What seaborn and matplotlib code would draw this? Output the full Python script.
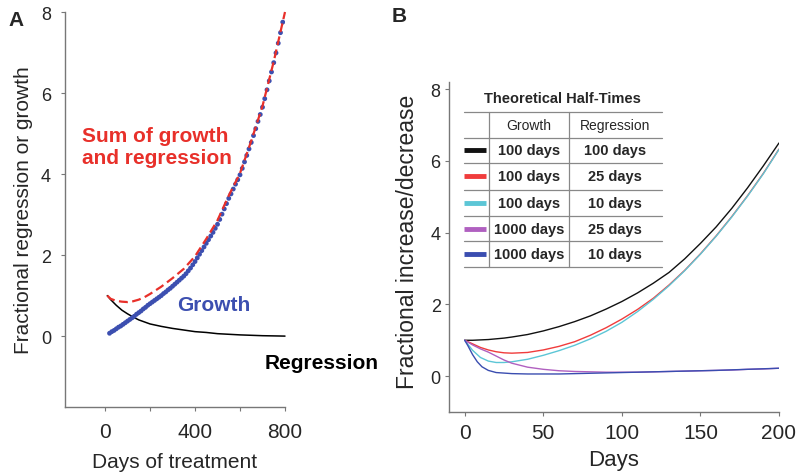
import numpy as np
import pandas as pd
import matplotlib
matplotlib.use("Agg")
import matplotlib.pyplot as plt
import seaborn as sns

# ---- panel A data ----
growth_days = list(range(20, 800, 10))
growth_vals = [0.07, 0.11, 0.14, 0.18, 0.22, 0.25, 0.29, 0.33, 0.37, 0.41,
               0.45, 0.49, 0.54, 0.58, 0.62, 0.67, 0.71, 0.76, 0.80, 0.84,
               0.88, 0.92, 0.96, 1.00, 1.05, 1.09, 1.14, 1.18, 1.23, 1.28,
               1.33, 1.38, 1.43, 1.48, 1.54, 1.61, 1.68, 1.76, 1.84, 1.93,
               2.02, 2.11, 2.20, 2.29, 2.38, 2.47, 2.56, 2.66, 2.76, 2.88,
               3.01, 3.14, 3.27, 3.40, 3.51, 3.63, 3.75, 3.86, 3.98, 4.14,
               4.30, 4.46, 4.62, 4.78, 4.95, 5.12, 5.30, 5.47, 5.65, 5.86,
               6.08, 6.30, 6.52, 6.75, 6.99, 7.23, 7.49, 7.75]

regr_days = [10, 25, 50, 75, 100, 125, 150, 200, 250, 300, 350, 400, 450, 500, 600, 700, 800]
regr_vals = [1.0, 0.9, 0.76, 0.64, 0.55, 0.47, 0.40, 0.30, 0.24, 0.19, 0.15, 0.11, 0.09, 0.06, 0.03, 0.01, 0.0]

sum_days = [10, 25, 50, 75, 100, 125, 150, 175, 200, 250, 300, 350, 400, 450, 500, 550, 600, 650, 700, 750, 800]
sum_vals = [1.0, 0.92, 0.87, 0.85, 0.84, 0.86, 0.90, 0.96, 1.04, 1.22, 1.43, 1.66, 1.97, 2.40, 2.86, 3.47, 4.02, 4.82, 5.68, 6.78, 8.0]

# ---- panel B data ----
b_days = [0, 5, 10, 15, 20, 25, 30, 40, 50, 60, 70, 80, 90, 100, 110, 120, 130, 140, 150, 160, 170, 180, 190, 200]
black_vals = [1.0, 1.0, 1.01, 1.02, 1.04, 1.06, 1.09, 1.16, 1.26, 1.38, 1.52, 1.68, 1.87, 2.08, 2.32, 2.59, 2.89, 3.27, 3.70, 4.16, 4.68, 5.25, 5.86, 6.50]
red_vals = [1.0, 0.90, 0.80, 0.73, 0.68, 0.65, 0.64, 0.66, 0.73, 0.83, 0.96, 1.14, 1.35, 1.59, 1.86, 2.17, 2.54, 2.95, 3.41, 3.91, 4.45, 5.03, 5.65, 6.33]
cyan_vals = [1.0, 0.72, 0.52, 0.42, 0.38, 0.38, 0.40, 0.47, 0.58, 0.71, 0.86, 1.04, 1.25, 1.50, 1.80, 2.14, 2.52, 2.94, 3.40, 3.90, 4.44, 5.02, 5.64, 6.32]
magenta_vals = [1.0, 0.87, 0.76, 0.67, 0.56, 0.45, 0.36, 0.25, 0.19, 0.15, 0.13, 0.12, 0.11, 0.11, 0.11, 0.12, 0.13, 0.14, 0.15, 0.16, 0.17, 0.19, 0.20, 0.22]
blue_days = [0, 2, 5, 8, 11, 15, 20, 30, 40, 50, 60, 70, 80, 90, 100, 120, 140, 160, 180, 200]
blue_vals = [1.0, 0.85, 0.60, 0.40, 0.26, 0.16, 0.10, 0.07, 0.06, 0.06, 0.06, 0.07, 0.08, 0.09, 0.10, 0.12, 0.14, 0.16, 0.19, 0.22]

growth_labels = ["100 days", "100 days", "100 days", "1000 days", "1000 days"]
regr_labels = ["100 days", "25 days", "10 days", "25 days", "10 days"]
line_colors = ["#111111", "#f03c3c", "#5cc6d6", "#b060c0", "#3a4db0"]

sns.set_style("ticks")
plt.rcParams["font.family"] = ["Liberation Sans", "DejaVu Sans"]

fig = plt.figure(figsize=(8, 4.77), dpi=100)
axA = fig.add_axes([65 / 800, 69 / 477, 220 / 800, 395 / 477])
axB = fig.add_axes([449 / 800, 64 / 477, 330 / 800, 330 / 477])

spine_col = "#777777"

# ---------- panel A ----------
dfA_r = pd.DataFrame({"day": regr_days, "val": regr_vals})
dfA_s = pd.DataFrame({"day": sum_days, "val": sum_vals})
dfA_g = pd.DataFrame({"day": growth_days, "val": growth_vals})

sns.lineplot(data=dfA_r, x="day", y="val", ax=axA, color="black", lw=1.1, estimator=None, sort=False)
sns.scatterplot(data=dfA_g, x="day", y="val", ax=axA, color="#3c4fb0", s=12, edgecolor="none", zorder=3)
sns.lineplot(data=dfA_s, x="day", y="val", ax=axA, color="#e8302a", lw=1.6, estimator=None,
             sort=False, zorder=4)
axA.lines[-1].set_dashes([4, 2])
for ln in axA.lines:
    ln.set_clip_on(False)

axA.set_xlim(-178, 800)
axA.set_ylim(-1.75, 8)
axA.set_xticks([0, 200, 400, 600, 800])
axA.set_xticklabels(["0", "", "400", "", "800"])
axA.set_yticks([0, 2, 4, 6, 8])
axA.set_xlabel("Days of treatment", fontsize=15, labelpad=8)
axA.set_ylabel("Fractional regression or growth", fontsize=15, labelpad=6)
axA.text(-102, 4.68, "Sum of growth\nand regression", color="#e8302a", fontsize=15,
         fontweight="bold", ha="left", va="center", linespacing=1.15)
axA.text(320, 0.79, "Growth", color="#3c4fb0", fontsize=15, fontweight="bold", ha="left", va="center")
axA.text(710, -0.65, "Regression", color="black", fontsize=15, fontweight="bold",
         ha="left", va="center", clip_on=False)

# ---------- panel B ----------
b_series = [black_vals, red_vals, cyan_vals, magenta_vals]
for vals, col in zip(b_series, line_colors[:4]):
    sns.lineplot(x=b_days, y=vals, ax=axB, color=col, lw=1.0, estimator=None, sort=False)
sns.lineplot(x=blue_days, y=blue_vals, ax=axB, color=line_colors[4], lw=1.0, estimator=None, sort=False)

axB.set_xlim(-10, 200)
axB.set_ylim(-1, 8.2)
axB.set_xticks([0, 50, 100, 150, 200])
axB.set_yticks([0, 2, 4, 6, 8])
axB.set_xlabel("Days", fontsize=16, labelpad=5)
axB.set_ylabel("Fractional increase/decrease", fontsize=16.5)
axB.yaxis.set_label_coords(-0.09, 0.52)

# table of half-times inside panel B
tr = axB.transAxes
x_l, x_r = 0.045, 0.645
v1, v2 = 0.121, 0.364
h_lines = [0.909, 0.830, 0.755, 0.673, 0.594, 0.518, 0.439]
grid_col = "#888888"
for h in h_lines:
    axB.plot([x_l, x_r], [h, h], transform=tr, color=grid_col, lw=0.9)
for v in (v1, v2):
    axB.plot([v, v], [h_lines[0], h_lines[-1]], transform=tr, color=grid_col, lw=0.9)
axB.text(0.345, 0.952, "Theoretical Half-Times", transform=tr, ha="center", va="center",
         fontsize=10.5, fontweight="bold")
axB.text(0.242, (h_lines[0] + h_lines[1]) / 2, "Growth", transform=tr, ha="center", va="center", fontsize=10)
axB.text(0.503, (h_lines[0] + h_lines[1]) / 2, "Regression", transform=tr, ha="center", va="center", fontsize=10)
for i, (g, r, c) in enumerate(zip(growth_labels, regr_labels, line_colors)):
    yc = (h_lines[i + 1] + h_lines[i + 2]) / 2
    axB.plot([0.045, 0.112], [yc, yc], transform=tr, color=c, lw=3.5, solid_capstyle="butt")
    axB.text(0.242, yc, g, transform=tr, ha="center", va="center", fontsize=10.5, fontweight="bold")
    axB.text(0.503, yc, r, transform=tr, ha="center", va="center", fontsize=10.5, fontweight="bold")

for ax in (axA, axB):
    sns.despine(ax=ax)
    for sp in ("left", "bottom"):
        ax.spines[sp].set_color(spine_col)
        ax.spines[sp].set_linewidth(1.0)
    ax.tick_params(axis="both", length=3, color=spine_col)
    ax.tick_params(axis="x", labelsize=15, pad=5)
    ax.tick_params(axis="y", labelsize=13)
axA.tick_params(axis="x", pad=8)
axA.tick_params(axis="y", pad=7)
axB.tick_params(axis="y", pad=3)

fig.text(8 / 800, 1 - 20 / 477, "A", fontsize=15, fontweight="bold", va="center", ha="left")
fig.text(392 / 800, 1 - 16 / 477, "B", fontsize=15, fontweight="bold", va="center", ha="left")

fig.savefig("out.png", dpi=100)
